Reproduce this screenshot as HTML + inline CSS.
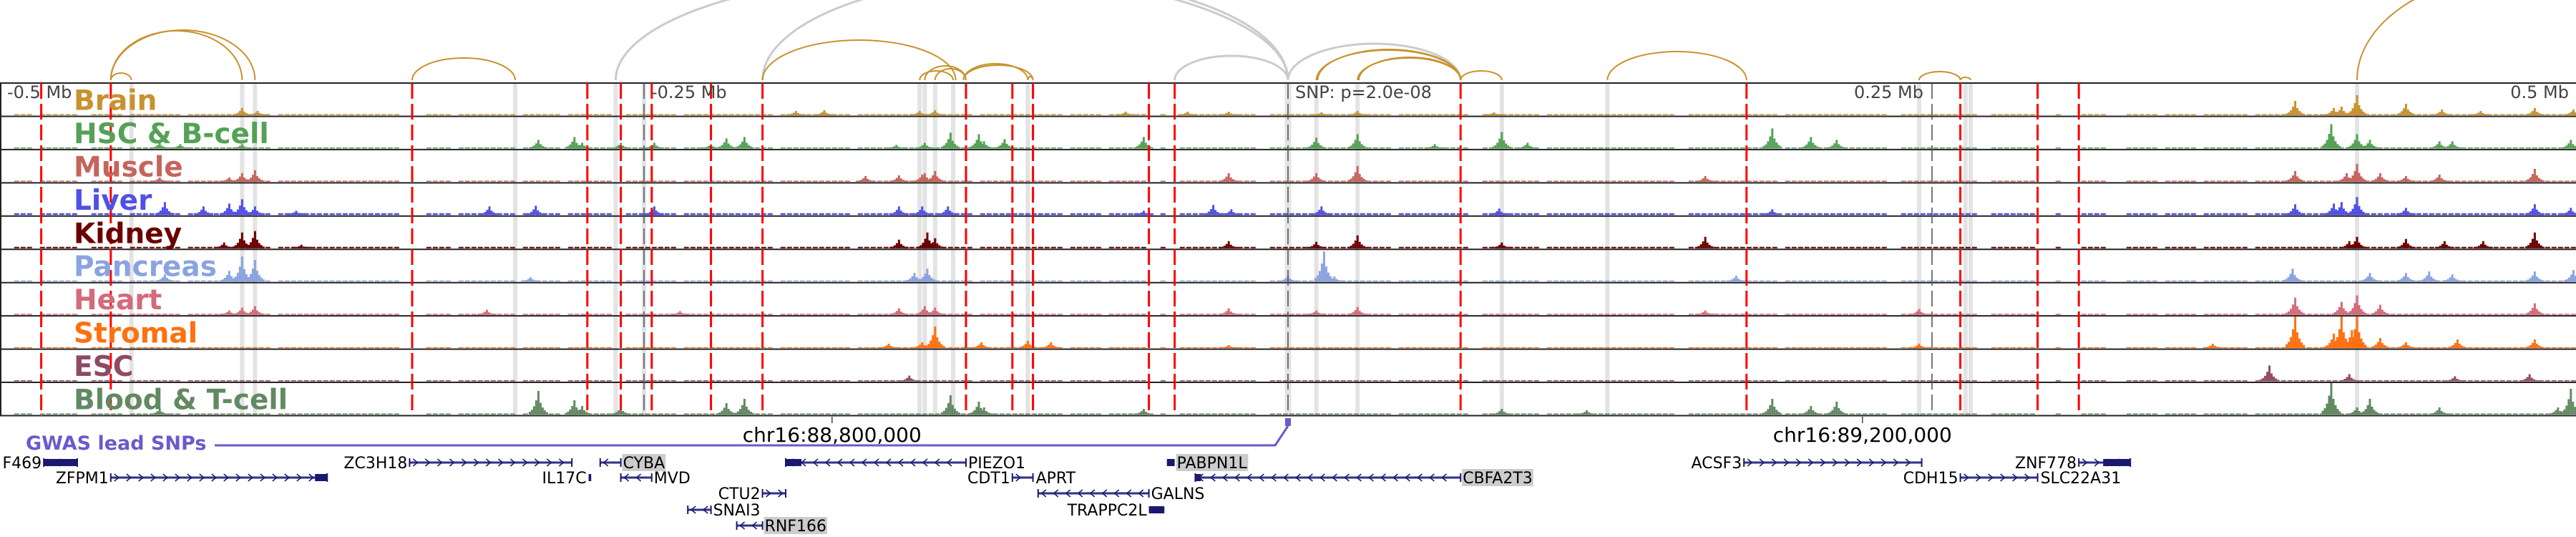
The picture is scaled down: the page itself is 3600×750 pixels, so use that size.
<!DOCTYPE html>
<html><head><meta charset="utf-8"><style>
html,body{margin:0;padding:0;background:#fff;}
svg{display:block;font-family:"DejaVu Sans","Liberation Sans",sans-serif;}
</style></head><body>
<svg id="chart" width="3600" height="750" viewBox="0 0 3600 750" xmlns="http://www.w3.org/2000/svg">
<g id="arcs"></g>
<g id="bars"></g>
<g id="tracks"></g>
<g id="vlines"></g>
<g id="labels"></g>
<g id="axis"></g>
<g id="genes"></g>
</svg>
<script>
// ---- data (positions in kb relative to lead SNP) ----
const trackNames = ["Brain","HSC & B-cell","Muscle","Liver","Kidney","Pancreas","Heart","Stromal","ESC","Blood & T-cell"];
const trackColors = ["#c8922e","#55a156","#c4655c","#5050e6","#6b0000","#8aa4e0","#d46a7a","#ff7010","#8e4a66","#628a62"];
const baselineLevels = [1.5,1.5,1.5,2.5,2,1.5,1.5,1.2,1.5,1.5];
const baselineGaps = [[-500,-496],[-488,-485],[-470,-467],[-452,-450],[-430,-428],[-395,-393],[-345,-335],[-325,-323],[-300,-298],[-282,-280],[-262,-258],[-238,-236],[-200,-198],[-170,-168],[-122,-120],[-88,-86],[-72,-70],[-55,-50],[-47,-43],[-12,-8],[40,42],[70,75],[98,100],[150,155],[190,192],[232,236],[268,272],[290,296],[300,306],[318,325],[336,340],[352,354],[372,374]];
const peaksBrain = [[-406,10],[-400,6],[-191,6],[-180,7],[-143,6],[-137,7],[-63,5],[-39,5],[-23,5],[13,4],[27,6],[80,4],[391,20],[406,10],[409,12],[415,28],[434,16],[448,8],[463,6],[484,10],[499,8]];
const peaksHSC = [[-438,8],[-430,6],[-406,6],[-291,12],[-277,16],[-274,8],[-259,8],[-246,8],[-224,6],[-218,14],[-211,16],[-152,5],[-141,8],[-131,22],[-120,20],[-118,10],[-110,13],[-56,16],[11,15],[27,20],[57,6],[83,23],[93,8],[188,28],[203,16],[213,12],[405,34],[415,20],[420,12],[447,10],[452,10],[498,12]];
const peaksMuscle = [[-438,6],[-411,6],[-406,12],[-401,16],[-164,8],[-151,9],[-142,10],[-141,12],[-137,15],[-23,12],[11,12],[27,22],[162,8],[391,15],[411,12],[415,25],[424,12],[434,8],[447,10],[484,18]];
const peaksLiver = [[-436,18],[-421,12],[-411,16],[-406,22],[-401,12],[-385,6],[-310,12],[-292,13],[-246,12],[-151,12],[-142,12],[-132,12],[-56,6],[-29,14],[-22,8],[13,12],[82,9],[188,8],[391,15],[406,16],[409,18],[415,25],[434,10],[484,15],[498,10]];
const peaksKidney = [[-413,8],[-406,22],[-401,24],[-383,5],[-151,12],[-140,22],[-137,14],[-23,10],[11,9],[27,18],[83,8],[162,16],[412,10],[415,16],[434,13],[449,10],[464,10],[484,22]];
const peaksPancreas = [[-436,10],[-411,15],[-406,35],[-401,30],[-294,6],[-145,12],[-140,18],[0,8],[14,42],[18,7],[174,8],[390,18],[420,12],[434,12],[443,14],[452,10],[484,14],[499,16]];
const peaksHeart = [[-411,6],[-406,10],[-401,12],[-311,7],[-236,5],[-151,9],[-141,12],[-137,10],[-23,9],[11,6],[27,11],[162,6],[245,8],[391,24],[409,18],[415,27],[424,14],[484,16]];
const peaksStromal = [[-155,6],[-142,8],[-137,30],[-119,8],[-101,10],[-92,8],[-23,4],[245,6],[359,6],[391,44],[406,20],[409,44],[413,25],[415,44],[424,14],[434,8],[454,12],[484,12]];
const peaksESC = [[-147,8],[381,22],[412,10],[453,7],[482,10]];
const peaksBlood = [[-438,8],[-291,33],[-277,20],[-274,12],[-259,10],[-218,16],[-211,22],[-131,27],[-120,18],[-118,10],[-56,8],[83,8],[116,6],[188,22],[203,12],[213,18],[405,44],[415,10],[420,22],[447,10],[493,10],[498,36]];
const peakSets = [peaksBrain,peaksHSC,peaksMuscle,peaksLiver,peaksKidney,peaksPancreas,peaksHeart,peaksStromal,peaksESC,peaksBlood];
const redLines = [-484,-457,-340,-272,-259,-247,-224,-204,-125,-107,-99,-54,-44,67,178,261,291,307];
const grayBars = [-449,-406,-401,-300,-261,-250,-143,-141,-137,-130,-101,0,11,27,83,124,245,263,265,415];
const darkLines = [-250,0,250];
const goldArcs = [[-457,-406,69],[-457,-401,70],[-457,-449,10],[-340,-300,31],[-204,-129,56],[-143,-130,13],[-141,-125,20],[-137,-125,16],[-126,-101,23],[-126,-99,21],[-101,-99,5],[11,67,42],[11.5,67,43],[27,67,31],[27.5,67,32],[67,83,13],[124,178,40],[245,261,12],[261,265,4],[415,545,150]];
const grayArcs = [[-261,0,151],[-204,0,144],[-44,0,34],[0,67,51]];
const axisTicks = [-500,-250,0,250,500];
const axisTickLabels = ["-0.5 Mb","-0.25 Mb","SNP: p=2.0e-08","0.25 Mb","0.5 Mb"];
const chromTicks = [-177,223];
const chromTickLabels = ["chr16:88,800,000","chr16:89,200,000"];
const geneNames = ["F469","ZFPM1","ZC3H18","IL17C","CYBA","MVD","CTU2","SNAI3","RNF166","PIEZO1","CDT1","GALNS","TRAPPC2L","PABPN1L","CBFA2T3","ACSF3","CDH15","ZNF778"];
const geneStarts = [-483,-457,-341,-271.5,-267,-259,-204,-233,-214,-195,-107,-97,-54,-47,-36,177,261,307];
const geneEnds = [-470,-373,-278,-270.5,-259,-247,-195,-224,-204,-125,-99,-54,-48,-44,67,246,291,327];
const geneStrands = [1,1,1,1,-1,-1,1,-1,-1,-1,1,-1,1,-1,-1,1,1,1];
const geneRows = [0,1,0,1,0,1,2,3,4,0,1,2,3,0,1,0,1,0];
const geneLabelSides = ["L","L","L","L","R","R","L","R","R","R","L","R","L","R","R","L","L","L"];
const geneHighlight = [0,0,0,0,1,0,0,0,1,0,0,0,0,1,1,0,0,0];
const geneRightLabels = ["","","","","","","","","","","APRT","","","","","","SLC22A31",""];

// ---- scales ----
const NS="http://www.w3.org/2000/svg";
const X0=0,X1=3600;
function xs(kb){return X0+(kb+500)/1000*(X1-X0);}
const TOP=116, TH=46.45, SIGMAX=44;
function ys(i,v){return TOP+(i+1)*TH-1.5 - v/44*SIGMAX;}
function mk(tag,attrs,parent){const e=document.createElementNS(NS,tag);for(const k in attrs)e.setAttribute(k,attrs[k]);parent.appendChild(e);return e;}

// arcs
const gArcs=document.getElementById('arcs');
const ARCY=112;
grayArcs.forEach(a=>{const x1=xs(a[0]),x2=xs(a[1]);const r=(x2-x1)/2;
 const p=mk('path',{d:`M${x1},${ARCY} A${r},${a[2]} 0 0 1 ${x2},${ARCY}`,fill:'none',stroke:'#cbcbcb','stroke-width':3},gArcs);
 
 });
goldArcs.forEach(a=>{const x1=xs(a[0]),x2=xs(a[1]);const r=(x2-x1)/2;
 const p=mk('path',{d:`M${x1},${ARCY} A${r},${a[2]} 0 0 1 ${x2},${ARCY}`,fill:'none',stroke:'#c8922e','stroke-width':2},gArcs);
 
 });

// highlight bars
const gBars=document.getElementById('bars');
grayBars.forEach(k=>{const w=(k===0)?9:6;
 const r=mk('rect',{x:xs(k)-w/2,y:TOP,width:w,height:TH*10,fill:'#e3e3e3'},gBars);
 
 });

// tracks
const gT=document.getElementById('tracks');
const BW=9;
const shape=[[-4,0.12],[-3,0.2],[-2,0.35],[-1,0.6],[0,1],[1,0.5],[2,0.3],[3,0.18],[4,0.1]];
trackNames.forEach((name,i)=>{
 const g=mk('g',{},gT);
 
 
 const col=trackColors[i];
 let d='';
 const y0=ys(i,0);
 for(let k=-497;k<500;k+=BW/3.6){
   if(baselineGaps.some(gp=>k>=gp[0]&&k<=gp[1]))continue;
   const x=xs(k), y=ys(i,baselineLevels[i]);
   d+=`M${x.toFixed(1)},${y0.toFixed(1)}V${y.toFixed(1)}h${BW-2}V${y0.toFixed(1)}Z`;
 }
 const base=mk('path',{d:d,fill:col},g);
 
 
 peakSets[i].forEach(pk=>{
   const cx=xs(pk[0]);
   shape.forEach(s=>{
     const h=Math.max(baselineLevels[i],pk[1]*s[1]);
     const y=ys(i,h);
     const r=mk('rect',{x:cx+s[0]*3-1.5,y:y,width:3,height:y0-y,fill:col},g);
     
     
   });
 });
});
// separators
for(let i=0;i<=10;i++){
 const l=mk('line',{x1:0,x2:3600,y1:TOP+i*TH,y2:TOP+i*TH,stroke:'#222','stroke-width':2},gT);
 
 
}
const lb=mk('line',{x1:1,x2:1,y1:TOP,y2:TOP+10*TH,stroke:'#222','stroke-width':2},gT);



// vertical lines
const gV=document.getElementById('vlines');
darkLines.forEach(k=>{
 const l=mk('line',{x1:xs(k),x2:xs(k),y1:TOP,y2:TOP+10*TH,stroke:'#555','stroke-width':1.6,'stroke-dasharray':'22 7'},gV);
 
 
});
redLines.forEach(k=>{
 const l=mk('line',{x1:xs(k),x2:xs(k),y1:TOP,y2:TOP+10*TH,stroke:'#ff0000','stroke-width':3,'stroke-dasharray':'22 7'},gV);
 
 
});

// labels
const gL=document.getElementById('labels');
trackNames.forEach((name,i)=>{
 const t=mk('text',{x:103,y:TOP+(i+1)*TH-9,fill:trackColors[i],'font-size':39,'font-weight':'bold'},gL);
 t.textContent=name;
 
 
});

// axis
const gA=document.getElementById('axis');
axisTicks.forEach((k,i)=>{
 let x=xs(k)+10, anchor='start';
 if(k===500){x=xs(k)-10;anchor='end';}
 if(k===250){x=xs(k)-12;anchor='end';}
 const t=mk('text',{x:x,y:137,fill:'#444','font-size':24,'text-anchor':anchor},gA);
 t.textContent=axisTickLabels[i];
 
 
});
chromTicks.forEach((k,i)=>{
 const l=mk('line',{x1:xs(k),x2:xs(k),y1:582,y2:591,stroke:'#444','stroke-width':1.5},gA);
 
 
 const t=mk('text',{x:xs(k),y:617,fill:'#000','font-size':28,'text-anchor':'middle'},gA);
 t.textContent=chromTickLabels[i];
 
 
});
// GWAS
const gw=mk('text',{x:36,y:628,fill:'#6a5acd','font-size':27,'font-weight':'bold'},gA);
gw.textContent='GWAS lead SNPs';


const gwl=mk('polyline',{points:`300,622 ${xs(-5)},622 ${xs(0)},595`,fill:'none',stroke:'#6a5acd','stroke-width':3},gA);


const gwm=mk('rect',{x:xs(0)-4,y:584,width:8,height:11,fill:'#6a5acd'},gA);



// genes
const gG=document.getElementById('genes');
const rowY=[646,667,689,712,734];
geneNames.forEach((nm,i)=>{
 const g=mk('g',{},gG);
 
 
 const x1=xs(geneStarts[i]),x2=xs(geneEnds[i]),y=rowY[geneRows[i]];
 const c='#191970';
 mk('line',{x1:x1,x2:x2,y1:y,y2:y,stroke:'#9090c0','stroke-width':4},g);
 mk('line',{x1:x1,x2:x2,y1:y,y2:y,stroke:c,'stroke-width':1.6},g);
 const w=x2-x1;
 if(w<25){mk('rect',{x:x1,y:y-5,width:Math.max(3,w),height:10,fill:c},g);}
 else{
  for(let x=x1+8;x<x2-6;x+=17){const s=geneStrands[i];
   mk('path',{d:`M${x-3*s},${y-5} L${x+3*s},${y} L${x-3*s},${y+5}`,fill:'none',stroke:c,'stroke-width':1.5},g);}
  mk('line',{x1:x1,x2:x1,y1:y-6,y2:y+6,stroke:c,'stroke-width':2},g);
  mk('line',{x1:x2,x2:x2,y1:y-6,y2:y+6,stroke:c,'stroke-width':2},g);
  if(nm==='F469') mk('rect',{x:x1,y:y-5,width:w,height:10,fill:c},g);
  if(nm==='ZFPM1') mk('rect',{x:x2-17,y:y-5,width:17,height:10,fill:c},g);
  if(nm==='ZNF778') mk('rect',{x:x2-38,y:y-5,width:38,height:10,fill:c},g);
  if(nm==='CBFA2T3') mk('rect',{x:x1,y:y-5,width:8,height:10,fill:c},g);
  if(nm==='PIEZO1') mk('rect',{x:x1,y:y-5,width:22,height:10,fill:c},g);
 }
 const left=geneLabelSides[i]==='L';
 const tx=left?x1-3:x2+3;
 const t=mk('text',{x:tx,y:y+8,'font-size':22,'text-anchor':left?'end':'start',fill:'#000'},g);
 t.textContent=nm;
 
 
 if(geneHighlight[i]){
  const bb=t.getBBox();
  const r=document.createElementNS(NS,'rect');
  r.setAttribute('x',bb.x-1);r.setAttribute('y',y-12);r.setAttribute('width',bb.width+2);r.setAttribute('height',24);r.setAttribute('fill','#cccccc');
  
  
  g.insertBefore(r,t);
 }
 if(geneRightLabels[i]){
  const t2=mk('text',{x:x2+4,y:y+8,'font-size':22,fill:'#000'},g);
  t2.textContent=geneRightLabels[i];
  
  
 }
});
</script>
</body></html>
